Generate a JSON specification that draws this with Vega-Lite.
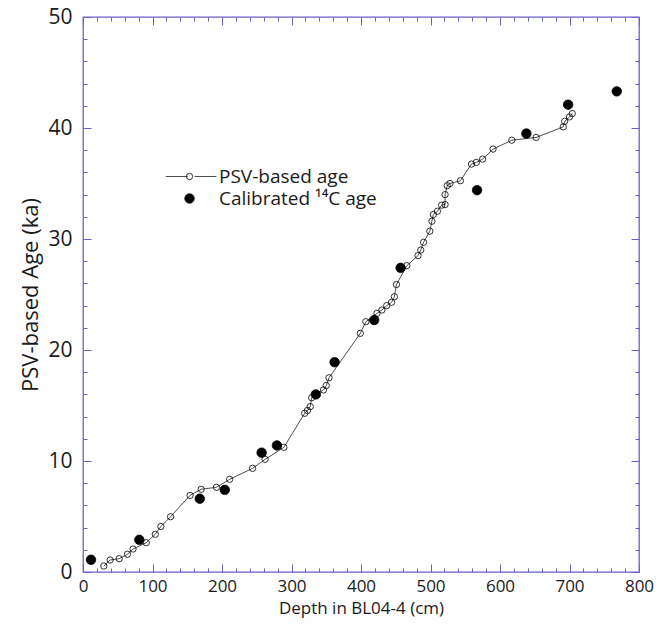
{
  "$schema": "https://vega.github.io/schema/vega-lite/v6.json",
  "autosize": {"type": "none"},
  "padding": {"left": 83, "top": 17, "right": 26, "bottom": 53},
  "width": 556,
  "height": 555,
  "background": "white",
  "config": {"view": {"stroke": "#6b5fd0", "strokeWidth": 1.3}, "font": "Open Sans"},
  "data": {"values": [
    {"depth": 30, "age": 0.54, "series": "PSV-based age"},
    {"depth": 39, "age": 1.08, "series": "PSV-based age"},
    {"depth": 52, "age": 1.2, "series": "PSV-based age"},
    {"depth": 64, "age": 1.6, "series": "PSV-based age"},
    {"depth": 72, "age": 2.07, "series": "PSV-based age"},
    {"depth": 91, "age": 2.64, "series": "PSV-based age"},
    {"depth": 104, "age": 3.4, "series": "PSV-based age"},
    {"depth": 112, "age": 4.1, "series": "PSV-based age"},
    {"depth": 126, "age": 4.98, "series": "PSV-based age"},
    {"depth": 154, "age": 6.9, "series": "PSV-based age"},
    {"depth": 170, "age": 7.45, "series": "PSV-based age"},
    {"depth": 192, "age": 7.63, "series": "PSV-based age"},
    {"depth": 211, "age": 8.35, "series": "PSV-based age"},
    {"depth": 244, "age": 9.34, "series": "PSV-based age"},
    {"depth": 262, "age": 10.15, "series": "PSV-based age"},
    {"depth": 289, "age": 11.23, "series": "PSV-based age"},
    {"depth": 319, "age": 14.3, "series": "PSV-based age"},
    {"depth": 323, "age": 14.55, "series": "PSV-based age"},
    {"depth": 327, "age": 14.9, "series": "PSV-based age"},
    {"depth": 329, "age": 15.7, "series": "PSV-based age"},
    {"depth": 346, "age": 16.4, "series": "PSV-based age"},
    {"depth": 350, "age": 16.8, "series": "PSV-based age"},
    {"depth": 354, "age": 17.5, "series": "PSV-based age"},
    {"depth": 399, "age": 21.5, "series": "PSV-based age"},
    {"depth": 407, "age": 22.55, "series": "PSV-based age"},
    {"depth": 423, "age": 23.3, "series": "PSV-based age"},
    {"depth": 430, "age": 23.6, "series": "PSV-based age"},
    {"depth": 437, "age": 24.0, "series": "PSV-based age"},
    {"depth": 444, "age": 24.3, "series": "PSV-based age"},
    {"depth": 448, "age": 24.8, "series": "PSV-based age"},
    {"depth": 451, "age": 25.9, "series": "PSV-based age"},
    {"depth": 466, "age": 27.6, "series": "PSV-based age"},
    {"depth": 482, "age": 28.5, "series": "PSV-based age"},
    {"depth": 486, "age": 29.0, "series": "PSV-based age"},
    {"depth": 490, "age": 29.7, "series": "PSV-based age"},
    {"depth": 499, "age": 30.7, "series": "PSV-based age"},
    {"depth": 502, "age": 31.6, "series": "PSV-based age"},
    {"depth": 504, "age": 32.2, "series": "PSV-based age"},
    {"depth": 510, "age": 32.5, "series": "PSV-based age"},
    {"depth": 516, "age": 33.05, "series": "PSV-based age"},
    {"depth": 521, "age": 33.1, "series": "PSV-based age"},
    {"depth": 521, "age": 34.0, "series": "PSV-based age"},
    {"depth": 524, "age": 34.8, "series": "PSV-based age"},
    {"depth": 528, "age": 35.0, "series": "PSV-based age"},
    {"depth": 543, "age": 35.25, "series": "PSV-based age"},
    {"depth": 559, "age": 36.75, "series": "PSV-based age"},
    {"depth": 566, "age": 36.9, "series": "PSV-based age"},
    {"depth": 575, "age": 37.2, "series": "PSV-based age"},
    {"depth": 590, "age": 38.1, "series": "PSV-based age"},
    {"depth": 617, "age": 38.9, "series": "PSV-based age"},
    {"depth": 652, "age": 39.15, "series": "PSV-based age"},
    {"depth": 691, "age": 40.1, "series": "PSV-based age"},
    {"depth": 693, "age": 40.6, "series": "PSV-based age"},
    {"depth": 700, "age": 41.0, "series": "PSV-based age"},
    {"depth": 704, "age": 41.3, "series": "PSV-based age"},
    {"depth": 11.5, "age": 1.1, "series": "Calibrated ¹⁴C age"},
    {"depth": 81, "age": 2.9, "series": "Calibrated ¹⁴C age"},
    {"depth": 168, "age": 6.6, "series": "Calibrated ¹⁴C age"},
    {"depth": 204, "age": 7.4, "series": "Calibrated ¹⁴C age"},
    {"depth": 257, "age": 10.75, "series": "Calibrated ¹⁴C age"},
    {"depth": 279, "age": 11.4, "series": "Calibrated ¹⁴C age"},
    {"depth": 335, "age": 16.0, "series": "Calibrated ¹⁴C age"},
    {"depth": 362, "age": 18.9, "series": "Calibrated ¹⁴C age"},
    {"depth": 419, "age": 22.7, "series": "Calibrated ¹⁴C age"},
    {"depth": 457, "age": 27.4, "series": "Calibrated ¹⁴C age"},
    {"depth": 567, "age": 34.4, "series": "Calibrated ¹⁴C age"},
    {"depth": 638, "age": 39.5, "series": "Calibrated ¹⁴C age"},
    {"depth": 698, "age": 42.1, "series": "Calibrated ¹⁴C age"},
    {"depth": 768, "age": 43.3, "series": "Calibrated ¹⁴C age"}
  ]},
  "layer": [
    {
      "transform": [{"filter": "datum.series === 'PSV-based age'"}],
      "mark": {"type": "line", "strokeWidth": 0.9},
      "encoding": {
        "x": {
          "field": "depth", "type": "quantitative",
          "scale": {"domain": [0, 800], "nice": false, "zero": false},
          "axis": {
            "orient": "bottom", "offset": -8,
            "values": [0,100,200,300,400,500,600,700,800],
            "labelOverlap": false, "labelFlush": false,
            "tickSize": 8, "tickColor": "#6b5fd0", "tickWidth": 1,
            "domain": false, "grid": false,
            "labelFontSize": 17, "labelColor": "#1a1a1a", "labelPadding": 6,
            "title": "Depth in BL04-4 (cm)", "titleFontSize": 17, "titleFontWeight": "normal", "titleColor": "#1a1a1a", "titlePadding": 6
          }
        },
        "y": {
          "field": "age", "type": "quantitative",
          "scale": {"domain": [0, 50], "nice": false, "zero": false},
          "axis": {
            "orient": "left", "offset": -8,
            "values": [0,10,20,30,40,50],
            "labelOverlap": false, "labelFlush": false,
            "tickSize": 8, "tickColor": "#6b5fd0", "tickWidth": 1,
            "domain": false, "grid": false,
            "labelFontSize": 21, "labelColor": "#1a1a1a", "labelPadding": 11,
            "title": "PSV-based Age (ka)", "titleFontSize": 22, "titleFontWeight": "normal", "titleColor": "#1a1a1a", "titlePadding": 5
          }
        },
        "stroke": {
          "field": "series", "type": "nominal",
          "scale": {"domain": ["PSV-based age"], "range": ["#3a3a3a"]},
          "legend": {
            "orient": "none", "legendX": 98.6, "legendY": 150,
            "title": null, "padding": 0,
            "symbolType": "M-8,0L-1.1,0M1.1,0L8,0", "symbolSize": 40, "symbolStrokeWidth": 0.9,
            "labelExpr": "''", "labelFontSize": 19, "labelOffset": 20
          }
        },
        "order": {"field": "age", "type": "quantitative"}
      }
    },
    {
      "mark": {"type": "point", "filled": true, "shape": "circle", "stroke": "black", "strokeWidth": 0.8, "opacity": 1},
      "encoding": {
        "x": {
          "field": "depth", "type": "quantitative",
          "axis": {
            "orient": "top", "offset": -8,
            "values": [0,100,200,300,400,500,600,700,800],
            "labels": false, "title": null, "grid": false, "domain": false,
            "tickSize": 8, "tickColor": "#6b5fd0", "tickWidth": 1
          }
        },
        "y": {
          "field": "age", "type": "quantitative",
          "axis": {
            "orient": "right", "offset": -8,
            "values": [0,10,20,30,40,50],
            "labels": false, "title": null, "grid": false, "domain": false,
            "tickSize": 8, "tickColor": "#6b5fd0", "tickWidth": 1
          }
        },
        "fill": {
          "field": "series", "type": "nominal",
          "scale": {"domain": ["PSV-based age", "Calibrated ¹⁴C age"], "range": ["transparent", "black"]},
          "legend": {
            "orient": "none", "legendX": 97, "legendY": 150,
            "title": null, "padding": 0,
            "labelFontSize": 19, "labelColor": "#1a1a1a", "labelOffset": 20, "labelLimit": 0,
            "rowPadding": 2,
            "symbolStrokeColor": "#222", "symbolStrokeWidth": 0.8
          }
        },
        "size": {
          "field": "series", "type": "nominal",
          "scale": {"domain": ["PSV-based age", "Calibrated ¹⁴C age"], "range": [40, 90]}
        }
      }
    },
    {
      "mark": {"type": "point", "opacity": 0},
      "encoding": {
        "x": {
          "field": "depth", "type": "quantitative",
          "axis": {
            "orient": "bottom", "offset": -4,
            "values": [20,40,60,80,120,140,160,180,220,240,260,280,320,340,360,380,420,440,460,480,520,540,560,580,620,640,660,680,720,740,760,780],
            "labels": false, "title": null, "grid": false, "domain": false,
            "tickSize": 4, "tickColor": "#6b5fd0", "tickWidth": 1
          }
        },
        "y": {
          "field": "age", "type": "quantitative",
          "axis": {
            "orient": "left", "offset": -4,
            "values": [2,4,6,8,12,14,16,18,22,24,26,28,32,34,36,38,42,44,46,48],
            "labels": false, "title": null, "grid": false, "domain": false,
            "tickSize": 4, "tickColor": "#6b5fd0", "tickWidth": 1
          }
        }
      }
    },
    {
      "mark": {"type": "point", "opacity": 0},
      "encoding": {
        "x": {
          "field": "depth", "type": "quantitative",
          "axis": {
            "orient": "top", "offset": -4,
            "values": [20,40,60,80,120,140,160,180,220,240,260,280,320,340,360,380,420,440,460,480,520,540,560,580,620,640,660,680,720,740,760,780],
            "labels": false, "title": null, "grid": false, "domain": false,
            "tickSize": 4, "tickColor": "#6b5fd0", "tickWidth": 1
          }
        },
        "y": {
          "field": "age", "type": "quantitative",
          "axis": {
            "orient": "right", "offset": -4,
            "values": [2,4,6,8,12,14,16,18,22,24,26,28,32,34,36,38,42,44,46,48],
            "labels": false, "title": null, "grid": false, "domain": false,
            "tickSize": 4, "tickColor": "#6b5fd0", "tickWidth": 1
          }
        }
      }
    }
  ],
  "resolve": {"axis": {"x": "independent", "y": "independent"}}
}
